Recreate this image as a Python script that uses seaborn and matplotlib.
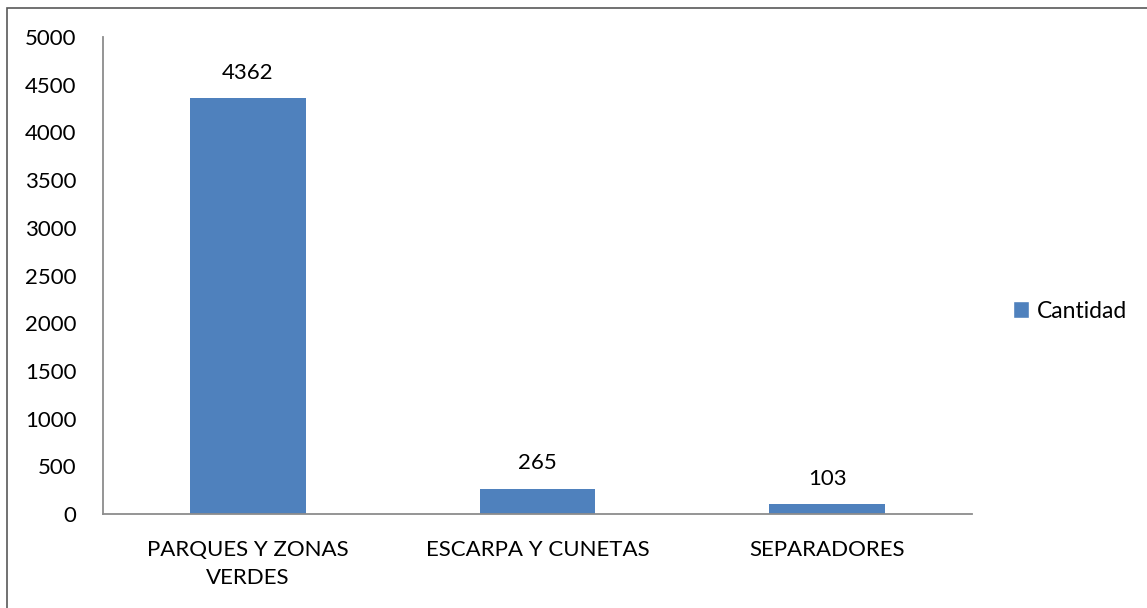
import matplotlib
matplotlib.use("Agg")
import matplotlib.pyplot as plt
import seaborn as sns
import pandas as pd
from matplotlib.patches import Rectangle, Patch

categories = ["PARQUES Y ZONAS\nVERDES", "ESCARPA Y CUNETAS", "SEPARADORES"]
values = [4362, 265, 103]
series_name = "Cantidad"
yticks = [0, 500, 1000, 1500, 2000, 2500, 3000, 3500, 4000, 4500, 5000]

sns.set_style("white")
plt.rcParams['font.family'] = ['Lato', 'DejaVu Sans']
plt.rcParams['text.color'] = 'black'
plt.rcParams['xtick.labelcolor'] = 'black'
plt.rcParams['ytick.labelcolor'] = 'black'

df = pd.DataFrame({"cat": categories, "val": values})

W, H = 1147, 608
FS = 16
fig = plt.figure(figsize=(W / 100, H / 100), dpi=100)
ax = fig.add_axes([103 / W, 1 - 514 / H, (972 - 103) / W, (514 - 37) / H])

bar_color = "#4F81BD"
sns.barplot(data=df, x="cat", y="val", color=bar_color, width=0.4, ax=ax,
            saturation=1, edgecolor="none")

ax.set_xlim(-0.5, len(categories) - 0.5)
ax.set_ylim(0, 5000)
ax.set_yticks(yticks)
ax.set_yticklabels([str(t) for t in yticks], fontsize=FS, color="black")
ax.set_xlabel("")
ax.set_ylabel("")

# category labels at centers, ticks at boundaries
ax.set_xticks(range(len(categories)))
ax.set_xticklabels(categories, fontsize=FS, linespacing=1.5, color="black")
ax.tick_params(axis="x", which="major", length=0, pad=19)
ax.set_xticks([i - 0.5 for i in range(len(categories) + 1)], minor=True)
ax.tick_params(axis="x", which="minor", length=6, width=1.3, color="#8C8C8C", direction="out")
ax.tick_params(axis="y", length=5, width=1.3, color="#8C8C8C", direction="out", pad=14)

for s in ["top", "right"]:
    ax.spines[s].set_visible(False)
for s in ["left", "bottom"]:
    ax.spines[s].set_color("#8C8C8C")
    ax.spines[s].set_linewidth(1.3)

for i, v in enumerate(values):
    ax.annotate(str(v), (i, v), xytext=(0, 11), textcoords="offset points",
                ha="center", va="bottom", fontsize=FS, color="black")

leg = fig.legend(handles=[Patch(facecolor=bar_color, label=series_name)],
                 loc="center left", bbox_to_anchor=(1013 / W, 1 - 311 / H),
                 frameon=False, fontsize=16.5, handlelength=0.7, handleheight=0.7,
                 handletextpad=0.35, borderpad=0, borderaxespad=0)
for t in leg.get_texts():
    t.set_color("black")

fig.add_artist(Rectangle((6.5 / W, -0.1), 1.2, 1 - 8.5 / H + 0.1,
                         transform=fig.transFigure, fill=False,
                         edgecolor="#595959", linewidth=1.2))

fig.savefig("out.png", dpi=100)
